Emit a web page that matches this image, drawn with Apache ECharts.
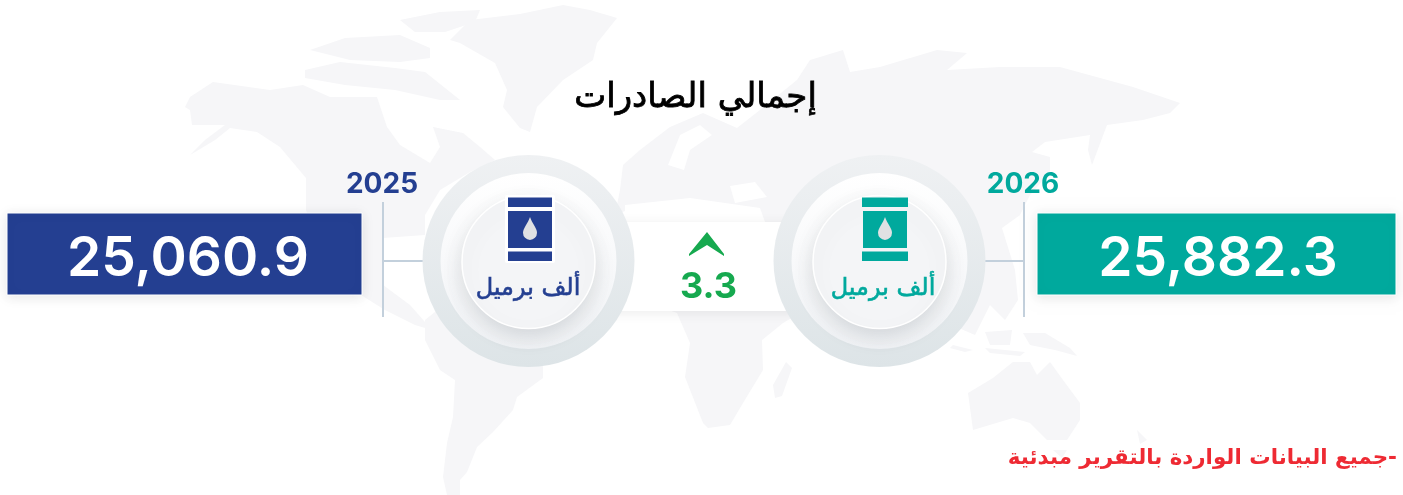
<!DOCTYPE html>
<html lang="ar" dir="rtl">
<head>
<meta charset="utf-8">
<title>إجمالي الصادرات</title>
<script src="https://cdn.jsdelivr.net/npm/echarts@6/dist/echarts.min.js"></script>
<style>
html,body{margin:0;padding:0;background:#fff;}
#chart{width:1403px;height:495px;}
</style>
</head>
<body>
<div id="chart"></div>
<script>
// data
var years = ['2025', '2026'];
var exportValues = [25060.9, 25882.3];
var unitLabels = ['ألف برميل', 'ألف برميل'];
var changeValues = [3.3];
var titleText = 'إجمالي الصادرات';
var noteText = '-جميع البيانات الواردة بالتقرير مبدئية';

var colors = ['#243f91', '#00a99d'];
var latinFont = 'Inter, sans-serif';
var arabicFont = '"DejaVu Sans", sans-serif';

// where each panel sits on the page
var panels = [
	{box:[7,213,355,82], lineX:383, stubFrom:384, stubTo:424, cx:528.5, iconX:530, textX:528, frame:true, rim:0},
	{box:[1037,213,359,82], lineX:1024, stubFrom:984, stubTo:1024, cx:879.5, iconX:885, textX:883, frame:false, rim:1}
];

// background world map, rough outlines
var landShapes = [
	// north and central america
	[[190,97],[213,82],[270,90],[303,85],[330,97],[377,97],[387,127],[433,127],[463,133],[480,147],[495,160],[470,172],[440,190],[425,215],[425,235],[383,238],[383,285],[410,305],[432,330],[415,325],[385,310],[345,285],[320,250],[306,210],[306,178],[280,147],[257,132],[230,128],[215,140],[190,155],[205,140],[225,125],[192,125],[190,110],[185,107]],
	// arctic islands
	[[310,50],[345,38],[400,35],[430,48],[430,58],[400,62],[350,60]],
	[[400,20],[440,12],[480,10],[475,22],[445,32],[415,32]],
	[[305,70],[340,62],[395,68],[425,72],[460,100],[440,100],[395,90],[345,85],[305,78]],
	// greenland
	[[450,40],[470,20],[520,14],[563,5],[590,10],[617,18],[597,43],[593,60],[563,80],[537,107],[530,132],[520,128],[503,107],[507,90],[495,63],[460,43]],
	// south america
	[[425,340],[440,370],[455,380],[453,417],[447,443],[443,477],[447,495],[460,495],[460,480],[467,472],[477,447],[493,432],[513,410],[517,397],[543,378],[543,355],[560,330],[510,300],[450,300],[425,320]],
	// africa
	[[625,225],[660,210],[700,205],[770,215],[795,260],[820,285],[800,313],[783,323],[762,340],[763,370],[743,403],[730,425],[708,428],[703,423],[685,377],[690,343],[677,313],[640,300],[618,270]],
	[[786,362],[792,368],[782,396],[775,398],[773,385]],
	// eurasia
	[[623,165],[640,150],[670,127],[703,113],[737,128],[760,110],[797,80],[810,60],[843,50],[850,72],[880,67],[937,50],[967,53],[947,70],[1000,67],[1060,67],[1133,87],[1180,103],[1170,113],[1143,120],[1107,125],[1092,165],[1088,150],[1090,135],[1045,142],[1032,152],[1050,157],[1050,172],[1030,195],[1020,215],[1002,228],[1015,270],[1018,300],[1005,320],[990,305],[975,335],[940,320],[900,345],[860,340],[840,310],[800,290],[775,240],[760,215],[700,205],[640,205],[615,215],[620,190]],
	// indonesia and new guinea
	[[953,345],[973,350],[965,352],[950,348]],
	[[985,332],[1012,330],[1010,345],[990,345]],
	[[1023,333],[1045,333],[1070,348],[1077,356],[1055,350],[1030,345]],
	[[985,348],[1025,352],[1020,356],[990,353]],
	// australia
	[[968,393],[993,378],[1013,362],[1030,362],[1037,375],[1050,362],[1063,380],[1080,403],[1080,420],[1067,440],[1047,440],[1030,423],[1013,418],[973,430]],
	[[1137,430],[1147,440],[1140,444]],
	[[1053,450],[1067,450],[1062,458]]
];
var seaShapes = [
	// hudson bay, gulf of mexico, mediterranean, black sea, baltic
	[[387,127],[405,115],[433,127],[440,147],[430,163],[400,145]],
	[[383,240],[425,236],[423,260],[383,262]],
	[[625,205],[690,198],[760,208],[765,222],[625,222]],
	[[730,186],[755,182],[767,197],[735,203]],
	[[668,165],[680,135],[700,125],[712,135],[690,150],[684,170]]
];

var chart = echarts.init(document.getElementById('chart'));

function polygon(points, fill){
	return {type:'polygon', z:0, silent:true, shape:{points:points}, style:{fill:fill}};
}

var graphics = [];
landShapes.forEach(function(p){ graphics.push(polygon(p, '#f6f6f8')); });
seaShapes.forEach(function(p){ graphics.push(polygon(p, '#ffffff')); });

// white box with the change in the middle
graphics.push({type:'rect', z:1, shape:{x:600,y:222,width:200,height:89},
	style:{fill:'#fff', shadowBlur:12, shadowColor:'rgba(0,0,0,0.08)', shadowOffsetY:2}});
graphics.push({type:'polygon', z:5, shape:{points:[[707,232],[724,254],[724,256],[707,245],[689,256],[689,254]]}, style:{fill:'#16a94f'}});
graphics.push({type:'text', z:5, x:708.5, y:287, style:{text:String(changeValues[0]), fill:'#16a94f', font:'700 36px ' + latinFont, align:'center', verticalAlign:'middle'}});

// title and note, the stroke thickens the regular weight a little
graphics.push({type:'text', z:5, x:695.5, y:98, style:{text:titleText, fill:'#000', stroke:'#000', lineWidth:0.8, font:'400 34px ' + arabicFont, align:'center', verticalAlign:'middle'}});
graphics.push({type:'text', z:5, x:1397, y:458, style:{text:noteText, fill:'#ee2a33', font:'700 21.4px ' + arabicFont, align:'right', verticalAlign:'middle'}});

function formatValue(v){
	return v.toLocaleString('en-US', {minimumFractionDigits:1, maximumFractionDigits:1});
}

function renderPanel(params, api){
	var i = params.dataIndex;
	var p = panels[i];
	var color = colors[i];
	var cy = 261;
	var ix = p.iconX - 22;
	var kids = [];

	// connector lines
	kids.push({type:'rect', shape:{x:p.lineX-1,y:202,width:2,height:115}, style:{fill:'#c3d0dc'}});
	kids.push({type:'rect', shape:{x:p.stubFrom,y:260,width:p.stubTo-p.stubFrom,height:2}, style:{fill:'#c3d0dc'}});

	// value box
	kids.push({type:'rect', shape:{x:p.box[0],y:p.box[1],width:p.box[2],height:p.box[3]},
		style:{fill:color, stroke:'#fff', lineWidth:1, shadowBlur:12, shadowColor:'rgba(0,0,0,0.10)', shadowOffsetY:2}});
	kids.push({type:'text', style:{text:formatValue(api.value(1)), x:p.box[0]+181, y:259, fill:'#fff', font:'600 55px ' + latinFont, align:'center', verticalAlign:'middle'}});
	kids.push({type:'text', style:{text:years[i], x:p.lineX-1, y:185, fill:color, font:'700 28px ' + latinFont, align:'center', verticalAlign:'middle'}});

	// rings
	kids.push({type:'circle', shape:{cx:p.cx,cy:cy,r:106},
		style:{fill:new echarts.graphic.LinearGradient(0,0,0,1,[{offset:0,color:'#eff1f3'},{offset:1,color:'#dde4e7'}])}});
	kids.push({type:'circle', shape:{cx:p.cx,cy:cy,r:88},
		style:{fill:new echarts.graphic.LinearGradient(0,0,0,1,[{offset:0,color:'#ffffff'},{offset:1,color:'#f1f3f6'}])}});
	kids.push({type:'circle', shape:{cx:p.cx,cy:262,r:66.5},
		style:{fill:'#f4f5f7', stroke:'#fff', lineWidth:1.5, shadowBlur:20, shadowColor:'rgba(60,70,80,0.17)', shadowOffsetY:8}});

	// barrel icon
	if(p.frame){
		kids.push({type:'rect', shape:{x:ix-3,y:195,width:50,height:68,r:2}, style:{fill:'#fff'}});
	}
	kids.push({type:'rect', shape:{x:ix-p.rim,y:197.5,width:44+2*p.rim,height:9.5}, style:{fill:color}});
	kids.push({type:'rect', shape:{x:ix,y:211,width:44,height:37}, style:{fill:color}});
	kids.push({type:'rect', shape:{x:ix-p.rim,y:251.5,width:44+2*p.rim,height:9.5}, style:{fill:color}});
	kids.push({type:'path', shape:{pathData:'M7 0C9 6 14 11 14 15A7 7 0 0 1 0 15C0 11 5 6 7 0Z', layout:'cover', x:p.iconX-7, y:217, width:14, height:23}, style:{fill:'#e0e1e3'}});

	// unit
	kids.push({type:'text', style:{text:api.value(2), x:p.textX, y:289, fill:color, stroke:color, lineWidth:0.6, font:'400 24px ' + arabicFont, align:'center', verticalAlign:'middle'}});

	return {type:'group', children:kids};
}

var seriesData = years.map(function(y, i){
	return [y, exportValues[i], unitLabels[i]];
});

var option = {
	animation:false,
	backgroundColor:'#ffffff',
	graphic:{elements:graphics},
	series:[{
		type:'custom',
		coordinateSystem:'none',
		silent:true,
		z:2,
		dimensions:[{name:'year',type:'ordinal'},{name:'value',type:'number'},{name:'unit',type:'ordinal'}],
		data:seriesData,
		renderItem:renderPanel
	}]
};
chart.setOption(option);
</script>
</body>
</html>
